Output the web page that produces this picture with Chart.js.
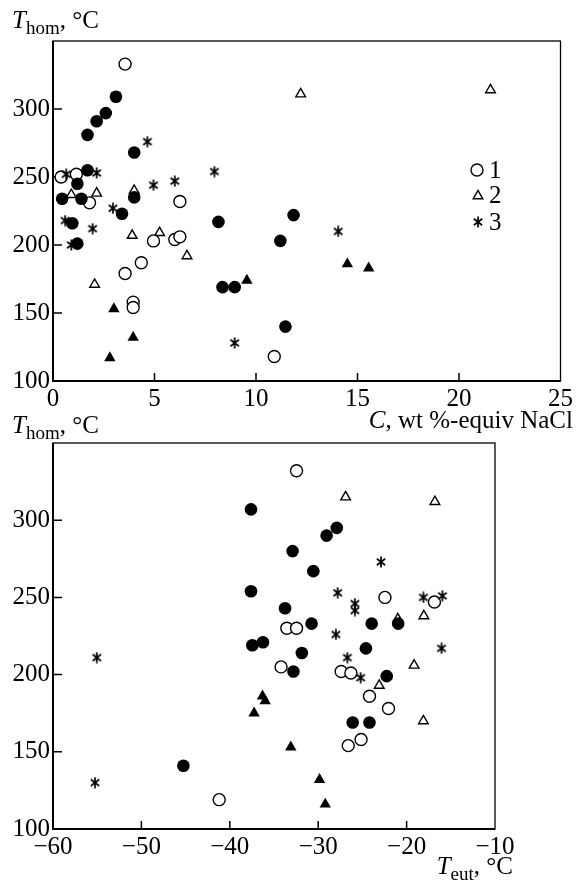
<!DOCTYPE html>
<html>
<head>
<meta charset="utf-8">
<script src="https://cdn.jsdelivr.net/npm/chart.js@4.4.1/dist/chart.umd.min.js"></script>
<style>
  html, body { margin: 0; padding: 0; background: #fff; }
  body { width: 576px; height: 882px; position: relative; overflow: hidden;
         font-family: "Liberation Serif", "Times New Roman", serif; color: #000; }
  .box { position: absolute; left: 0; width: 576px; }
  #box-sal { top: 0; height: 420px; }
  #box-eut { top: 420px; height: 462px; }
  .lbl { position: absolute; font-size: 25px; line-height: 24px; white-space: nowrap; }
  .lbl i { font-style: italic; }
  .lbl sub { font-size: 19px; vertical-align: -6px; line-height: 0; }
</style>
</head>
<body>
<div class="box" id="box-sal"><canvas id="cv-sal"></canvas></div>
<div class="box" id="box-eut"><canvas id="cv-eut"></canvas></div>

<div class="lbl" style="left:12px;top:8px"><i>T</i><sub>hom</sub>, °C</div>
<div class="lbl" style="right:3px;top:408px"><i>C</i>, wt %-equiv NaCl</div>
<div class="lbl" style="left:12px;top:413px"><i>T</i><sub>hom</sub>, °C</div>
<div class="lbl" style="right:63px;top:854px"><i>T</i><sub>eut</sub>, °C</div>

<div class="lbl" style="left:489px;top:158px">1</div>
<div class="lbl" style="left:489px;top:183px">2</div>
<div class="lbl" style="left:489px;top:210px">3</div>

<script>
/* global Chart */
// Faixas dos eixos
const C_RANGE = [0, 25], C_STEP = 5;
const TEUT_RANGE = [-60, -10], TEUT_STEP = 10;
const THOM_RANGE = [100, 350], THOM_STEP = 50;

// Grafico de cima: [C (wt % NaCl), Thom]
const salCheioCirc = [[3.1,309],[2.6,297],[2.15,291],[1.7,281],[4.0,268],[1.7,255],[1.2,245],[0.45,234],[1.4,234],[4.0,235],
  [3.4,223],[8.15,217],[11.85,222],[0.95,216],[1.2,201],[11.2,203],[8.35,169],[8.95,169],[11.45,140]];
const salAbertoCirc = [[3.55,333],[0.4,250],[1.15,252],[1.8,231],[6.25,232],[4.95,203],[6.0,204],[6.25,206],[4.35,187],
  [3.55,179],[3.95,158],[3.95,154],[10.9,118]];
const salAbertoTri = [[12.2,311],[21.55,314],[0.9,237],[2.15,238],[4.0,240],[3.9,207],[5.25,209],[6.6,192],[2.05,171]];
const salCheioTri = [[9.55,174],[3.0,153],[3.95,132],[2.8,117],[14.5,186],[15.55,183]];
const salAsterisco = [[4.65,276],[0.65,252],[2.15,253],[4.95,244],[6.0,247],[7.95,254],[2.95,227],[0.6,218],[1.95,212],
  [0.9,200],[14.05,210],[8.95,128]];

// Grafico de baixo: [Teut, Thom]
const eutCheioCirc = [[-37.6,307],[-32.9,280],[-27.9,295],[-29.05,290],[-30.55,267],[-37.6,254],[-33.75,243],[-30.75,233],
  [-23.95,233],[-20.95,233],[-37.45,219],[-36.25,221],[-31.85,214],[-24.6,217],[-32.8,202],[-22.25,199],[-26.1,169],
  [-24.2,169],[-45.25,141]];
const eutAbertoCirc = [[-32.45,332],[-33.55,230],[-32.45,230],[-22.45,250],[-16.85,247],[-34.2,205],[-27.4,202],[-26.3,201],
  [-24.2,186],[-22.05,178],[-26.6,154],[-25.15,158],[-41.2,119]];
const eutAbertoTri = [[-26.9,315],[-16.8,312],[-18.05,238],[-21.0,236],[-19.15,206],[-23.1,193],[-18.1,170]];
const eutCheioTri = [[-36.3,186],[-36.0,183],[-37.25,175],[-33.1,153],[-29.85,132],[-29.2,116]];
const eutAsterisco = [[-22.9,273],[-27.8,253],[-25.85,246],[-25.85,241.5],[-18.1,250],[-15.95,251],[-28.0,226],[-16.05,217],
  [-26.7,211],[-25.2,198],[-55.05,211],[-55.25,130]];

Chart.defaults.font.family = '"Liberation Serif", "Times New Roman", serif';
Chart.defaults.font.size = 25;
Chart.defaults.color = '#000';

// asterisco de 6 bracos (o 'star' do Chart.js tem 8)
function criarAsterisco() {
  const c = document.createElement('canvas');
  c.width = 12; c.height = 12;
  const g = c.getContext('2d');
  g.strokeStyle = '#000'; g.lineWidth = 1.7;
  g.beginPath();
  g.moveTo(6, 0.5); g.lineTo(6, 11.5);
  g.moveTo(1.8, 2.8); g.lineTo(10.2, 9.2);
  g.moveTo(1.8, 9.2); g.lineTo(10.2, 2.8);
  g.stroke();
  return c;
}
const ASTERISCO = criarAsterisco();

const ESTILOS = {
  cheioCirc:  { pointStyle: 'circle',   pointRadius: 6.3, pointBackgroundColor: '#000', pointBorderWidth: 0 },
  cheioTri:   { pointStyle: 'triangle', pointRadius: 6.6, pointBackgroundColor: '#000', pointBorderWidth: 0 },
  asterisco:  { pointStyle: ASTERISCO,  pointRadius: 6 },
  abertoCirc: { pointStyle: 'circle',   pointRadius: 6,   pointBackgroundColor: '#fff', pointBorderWidth: 1.4 },
  abertoTri:  { pointStyle: 'triangle', pointRadius: 5.6, pointBackgroundColor: '#fff', pointBorderWidth: 1.4 }
};

function serie(label, pares, estilo) {
  return Object.assign({
    label,
    data: pares.map(([x, y]) => ({ x, y })),
    pointBorderColor: '#000',
    showLine: false
  }, ESTILOS[estilo]);
}

// moldura e tracinhos para dentro
const molduraTicks = {
  id: 'molduraTicks',
  beforeDatasetsDraw(chart) {
    const { ctx, chartArea: a, scales } = chart;
    ctx.save();
    ctx.strokeStyle = '#000';
    ctx.lineWidth = 1.3;
    ctx.strokeRect(a.left, a.top, a.right - a.left, a.bottom - a.top);
    ctx.lineWidth = 2;
    ctx.beginPath();
    ctx.moveTo(a.left, a.top); ctx.lineTo(a.left, a.bottom); ctx.lineTo(a.right, a.bottom);
    ctx.stroke();
    ctx.lineWidth = 1.5;
    ctx.beginPath();
    scales.x.ticks.forEach(t => {
      if (t.value === scales.x.min || t.value === scales.x.max) return;
      const px = scales.x.getPixelForValue(t.value);
      ctx.moveTo(px, a.bottom); ctx.lineTo(px, a.bottom - 8);
    });
    scales.y.ticks.forEach(t => {
      if (t.value === scales.y.min || t.value === scales.y.max) return;
      const py = scales.y.getPixelForValue(t.value);
      ctx.moveTo(a.left, py); ctx.lineTo(a.left + 9, py);
    });
    ctx.stroke();
    ctx.restore();
  }
};

// legenda (so simbolos; textos em HTML)
const legendaSimbolos = {
  id: 'legendaSimbolos',
  afterDraw(chart, args, opts) {
    const ctx = chart.ctx;
    (opts.itens || []).forEach(it => {
      const ds = chart.data.datasets[it.ds];
      ctx.save();
      ctx.fillStyle = ds.pointBackgroundColor || '#000';
      ctx.strokeStyle = '#000';
      ctx.lineWidth = ds.pointBorderWidth || 0;
      Chart.helpers.drawPoint(ctx, {
        pointStyle: ds.pointStyle, radius: ds.pointRadius, rotation: 0,
        borderWidth: ds.pointBorderWidth || 0
      }, it.x, it.y);
      ctx.restore();
    });
  }
};

function eixos(xr, xstep, xh, menos) {
  const fmt = v => menos ? String(v).replace('-', '\u2212') : String(v);
  return {
    x: {
      type: 'linear', min: xr[0], max: xr[1],
      ticks: { stepSize: xstep, padding: 3, maxRotation: 0, callback: fmt },
      grid: { display: false, drawTicks: false }, border: { display: false },
      afterFit: s => { s.height = xh; }
    },
    y: {
      type: 'linear', min: THOM_RANGE[0], max: THOM_RANGE[1],
      ticks: { stepSize: THOM_STEP, padding: 3, callback: v => v === THOM_RANGE[1] ? null : String(v) },
      grid: { display: false, drawTicks: false }, border: { display: false },
      afterFit: s => { s.width = 53; }
    }
  };
}

function criarGrafico(id, datasets, xr, xstep, xh, menos, padding, legenda) {
  return new Chart(document.getElementById(id), {
    type: 'scatter',
    data: { datasets },
    options: {
      responsive: true, maintainAspectRatio: false, animation: false,
      layout: { padding },
      plugins: {
        legend: { display: false }, tooltip: { enabled: false },
        legendaSimbolos: { itens: legenda }
      },
      scales: eixos(xr, xstep, xh, menos)
    },
    plugins: [molduraTicks, legendaSimbolos]
  });
}

criarGrafico('cv-sal', [
  serie('cheio circ', salCheioCirc, 'cheioCirc'),
  serie('cheio tri', salCheioTri, 'cheioTri'),
  serie('3', salAsterisco, 'asterisco'),
  serie('1', salAbertoCirc, 'abertoCirc'),
  serie('2', salAbertoTri, 'abertoTri')
], C_RANGE, C_STEP, 39, false, { top: 41, right: 14, left: 0, bottom: 0 },
[{ ds: 3, x: 477, y: 170 }, { ds: 4, x: 478, y: 196 }, { ds: 2, x: 478, y: 222 }]);

criarGrafico('cv-eut', [
  serie('cheio circ', eutCheioCirc, 'cheioCirc'),
  serie('cheio tri', eutCheioTri, 'cheioTri'),
  serie('3', eutAsterisco, 'asterisco'),
  serie('1', eutAbertoCirc, 'abertoCirc'),
  serie('2', eutAbertoTri, 'abertoTri')
], TEUT_RANGE, TEUT_STEP, 53, true, { top: 23, right: 81, left: 0, bottom: 0 }, []);
</script>
</body>
</html>
